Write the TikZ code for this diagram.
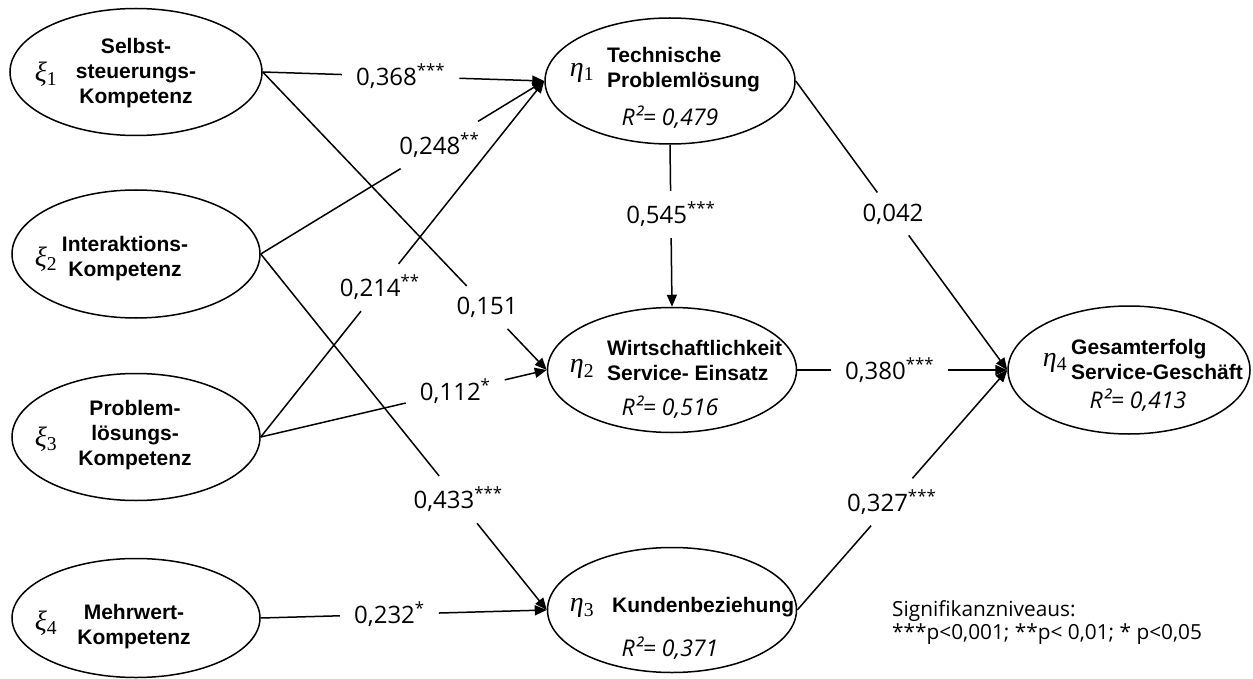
\documentclass[tikz,border=0pt]{standalone}
\usepackage[no-math]{fontspec}
\setmainfont{Open Sans}
\newfontfamily\arialfont{Liberation Sans}
\newfontfamily\greekfont{Liberation Serif}
\usetikzlibrary{shapes.geometric,arrows.meta}

\tikzset{
  construct/.style={draw, ellipse, line width=1.5pt, inner sep=0pt},
  cname/.style={font=\arialfont\bfseries\fontsize{21}{25}\selectfont, align=center, inner sep=0pt},
  cnamel/.style={cname, align=left, anchor=west},
  sym/.style={font=\greekfont\fontsize{28}{30}\selectfont, inner sep=0pt},
  rsq/.style={font=\itshape\fontsize{23}{26}\selectfont, inner sep=0pt},
  coef/.style={font=\fontsize{24}{28}\selectfont, inner xsep=14pt, inner ysep=11pt},
  link/.style={line width=1.5pt},
  arr/.style={link, -{Triangle[length=12pt,width=10pt]}},
  note/.style={font=\fontsize{20.8}{23}\selectfont, align=left, anchor=west, inner sep=0pt}
}
% Greek construct symbol with an upright index
\newcommand\csym[2]{\textit{#1}\textsubscript{#2}}

\begin{document}
\begin{tikzpicture}[x=1pt,y=-1pt]
\useasboundingbox (0,0) rectangle (1253,679);

% exogenous constructs
\node[construct, minimum width=252pt, minimum height=127pt] (x1) at (136,72) {};
\node[construct, minimum width=248pt, minimum height=128pt] (x2) at (136,254) {};
\node[construct, minimum width=248pt, minimum height=127pt] (x3) at (136,437) {};
\node[construct, minimum width=248pt, minimum height=119pt] (x4) at (136,618) {};

% endogenous constructs
\node[construct, minimum width=250pt, minimum height=126pt] (e1) at (670,81) {};
\node[construct, minimum width=249pt, minimum height=125pt] (e2) at (672,370) {};
\node[construct, minimum width=249pt, minimum height=125pt] (e3) at (672,610) {};
\node[construct, minimum width=242pt, minimum height=128pt] (e4) at (1129,370) {};

% construct texts
\node[sym] (sx1) at (46,74) {\csym{ξ}{1}};
\node[cname] (tx1) at (136,73) {Selbst-\\steuerungs-\\Kompetenz};
\node[sym] (sx2) at (46,259) {\csym{ξ}{2}};
\node[cname] (tx2) at (125,259) {Interaktions-\\Kompetenz};
\node[sym] (sx3) at (46,439) {\csym{ξ}{3}};
\node[cname] (tx3) at (135,435) {Problem-\\lösungs-\\Kompetenz};
\node[sym] (sx4) at (46,623) {\csym{ξ}{4}};
\node[cname] (tx4) at (134,627) {Mehrwert-\\Kompetenz};

\node[sym] (se1) at (582,73) {\csym{η}{1}};
\node[cnamel] (te1) at (607,70) {Technische\\Problemlösung};
\node[rsq] (re1) at (670,117) {R²= 0,479};
\node[sym] (se2) at (582,369) {\csym{η}{2}};
\node[cnamel] (te2) at (607,360) {Wirtschaftlichkeit\\Service- Einsatz};
\node[rsq] (re2) at (670,407) {R²= 0,516};
\node[sym] (se3) at (582,608) {\csym{η}{3}};
\node[cnamel] (te3) at (612,607) {Kundenbeziehung};
\node[rsq] (re3) at (670,648) {R²= 0,371};
\node[sym] (se4) at (1055,363) {\csym{η}{4}};
\node[cnamel] (te4) at (1071,359) {Gesamterfolg\\Service-Geschäft};
\node[rsq] (re4) at (1138,400) {R²= 0,413};

% path coefficients, placed on the straight connections
\path (x1.east) -- (e1.west) node[coef, pos=0.49] (c1) {0,368\textsuperscript{***}};
\path (x2.east) -- (e1.west) node[coef, pos=0.63] (c2) {0,248\textsuperscript{**}};
\path (x3.east) -- (e1.west) node[coef, pos=0.42] (c3) {0,214\textsuperscript{**}};
\path (x1.east) -- (e2.west) node[coef, pos=0.79] (c4) {0,151};
\path (x3.east) -- (e2.west) node[coef, pos=0.68] (c5) {0,112\textsuperscript{*}};
\path (x2.east) -- (e3.west) node[coef, pos=0.69] (c6) {0,433\textsuperscript{***}};
\path (x4.east) -- (e3.west) node[coef, pos=0.45] (c7) {0,232\textsuperscript{*}};
\path (e1.south) -- (e2.north) node[coef, pos=0.43] (c8) {0,545\textsuperscript{***}};
\path (e1.east) -- (e4.west) node[coef, pos=0.46] (c9) {0,042};
\path (e2.east) -- (e4.west) node[coef, pos=0.44] (c10) {0,380\textsuperscript{***}};
\path (e3.east) -- (e4.west) node[coef, pos=0.45] (c11) {0,327\textsuperscript{***}};

% connections, interrupted by their coefficients
\draw[link] (x1.east) -- (c1);  \draw[arr] (c1) -- (e1.west);
\draw[link] (x2.east) -- (c2);  \draw[arr] (c2) -- (e1.west);
\draw[link] (x3.east) -- (c3);  \draw[arr] (c3) -- (e1.west);
\draw[link] (x1.east) -- (c4);  \draw[arr] (c4) -- (e2.west);
\draw[link] (x3.east) -- (c5);  \draw[arr] (c5) -- (e2.west);
\draw[link] (x2.east) -- (c6);  \draw[arr] (c6) -- (e3.west);
\draw[link] (x4.east) -- (c7);  \draw[arr] (c7) -- (e3.west);
\draw[link] (e1.south) -- (c8); \draw[arr] (c8) -- (e2.north);
\draw[link] (e1.east) -- (c9);  \draw[arr] (c9) -- (e4.west);
\draw[link] (e2.east) -- (c10); \draw[arr] (c10) -- (e4.west);
\draw[link] (e3.east) -- (c11); \draw[arr] (c11) -- (e4.west);

% significance levels
\node[note] (sig) at (892,623) {Signifikanzniveaus:\\***p<0,001; **p< 0,01; * p<0,05};
\end{tikzpicture}
\end{document}
